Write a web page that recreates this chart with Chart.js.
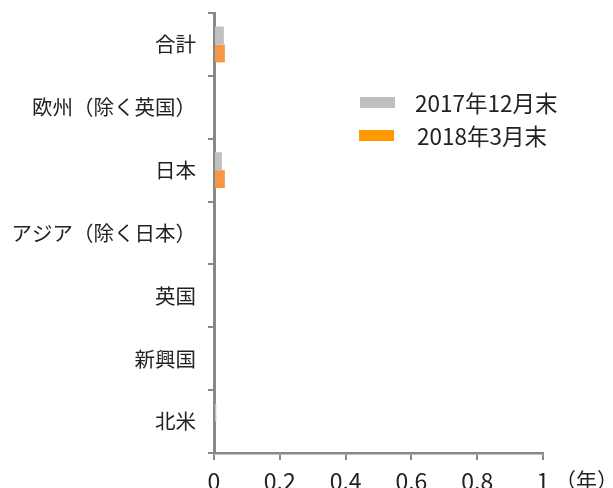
<!DOCTYPE html>
<html><head><meta charset="utf-8">
<script src="https://cdn.jsdelivr.net/npm/chart.js@4.4.1/dist/chart.umd.min.js"></script>
<style>html,body{margin:0;padding:0;background:#fff}#wrap{width:613px;height:488px}</style>
</head><body><div id="wrap"><canvas id="c" width="613" height="488"></canvas></div>
<script>
const categories = ["合計", "欧州（除く英国）", "日本", "アジア（除く日本）", "英国", "新興国", "北米"];
const seriesNames = ["2017年12月末", "2018年3月末"];
const dec2017 = [0.030, 0, 0.024, 0, 0, 0, 0.007];
const mar2018 = [0.033, 0, 0.033, 0, 0, 0, 0];
const xTicks = [0, 0.2, 0.4, 0.6, 0.8, 1];
const unitLabel = "（年）";
const barColors = ["#C0C0C0", "#F79646"];
const legendColors = ["#BFBFBF", "#FF9900"];
const FONT = "'Noto Sans CJK JP', 'Noto Sans', sans-serif";

const overlay = {
  id: 'overlay',
  afterDraw(chart) {
    const ctx = chart.ctx;
    const xs = chart.scales.x;
    ctx.save();
    ctx.fillStyle = '#222';
    ctx.font = "21px " + FONT;
    ctx.textBaseline = 'middle';
    ctx.textAlign = 'left';
    ctx.fillText(unitLabel, xs.getPixelForValue(1) + 12, 480);
    // legend
    const items = chart.data.datasets;
    const boxX = 360, textX = 415, rows = [103, 136];
    items.forEach((ds, i) => {
      ctx.fillStyle = legendColors[i];
      ctx.fillRect(boxX - i, rows[i] - 6, 35, 11);
      ctx.fillStyle = '#222';
      ctx.font = "22.5px " + FONT;
      ctx.fillText(ds.label, textX + i * 2, rows[i]);
    });
    ctx.restore();
  }
};

new Chart(document.getElementById('c'), {
  type: 'bar',
  data: {
    labels: categories,
    datasets: [
      { label: seriesNames[0], data: dec2017, backgroundColor: barColors[0], barPercentage: 1, categoryPercentage: 0.57 },
      { label: seriesNames[1], data: mar2018, backgroundColor: barColors[1], barPercentage: 1, categoryPercentage: 0.57 }
    ]
  },
  options: {
    indexAxis: 'y',
    responsive: false,
    animation: false,
    devicePixelRatio: 1,
    layout: { padding: { top: 13, right: 70, left: 0, bottom: 0 } },
    plugins: { legend: { display: false }, tooltip: { enabled: false } },
    scales: {
      x: {
        type: 'linear', min: 0, max: 1,
        afterBuildTicks: (s) => { s.ticks = xTicks.map(v => ({ value: v })); },
        afterFit: (s) => { s.height = 35; s.paddingLeft = 0; s.paddingRight = 0; },
        ticks: { color: '#222', font: { family: FONT, size: 23 }, padding: 7, maxRotation: 0,
                 callback: (v) => String(v) },
        grid: { drawOnChartArea: false, drawTicks: true, tickLength: 7, color: '#888', lineWidth: 2 },
        border: { display: true, color: '#888', width: 2.5 }
      },
      y: {
        afterFit: (s) => { s.width = 214; s.paddingTop = 0; s.paddingBottom = 0; },
        ticks: { color: '#222', font: { family: FONT, size: 20.5 }, padding: 12 },
        grid: { offset: true, drawOnChartArea: false, drawTicks: true, tickLength: 6, color: '#888', lineWidth: 2 },
        border: { display: true, color: '#888', width: 3 }
      }
    }
  },
  plugins: [overlay]
});
</script></body></html>
